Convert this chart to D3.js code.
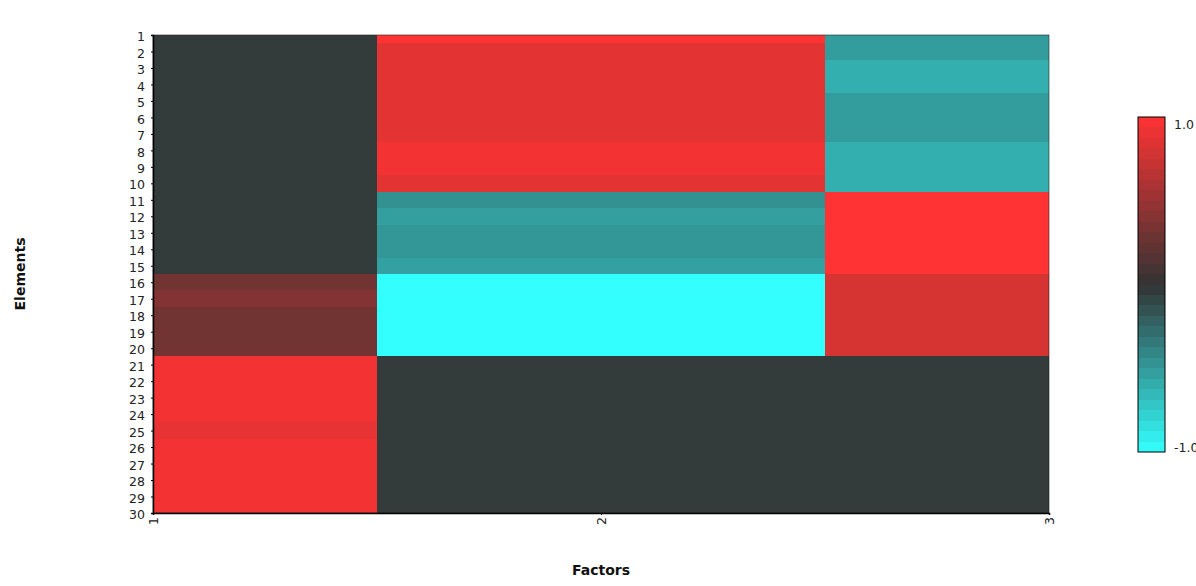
<!DOCTYPE html>
<html>
<head>
<meta charset="utf-8">
<script src="https://cdn.jsdelivr.net/npm/d3@7"></script>
<style>
  body { margin: 0; background: #fff; }
  text { font-family: "DejaVu Sans", sans-serif; }
</style>
</head>
<body>
<div id="area"></div>
<script>
'use strict';

// factors (columns) and elements (rows)
const factors = [1, 2, 3];
const elements = d3.range(1, 31);

// loading values per factor, element 1..30
const factor1 = [-0.04, -0.04, -0.04, -0.04, -0.04, -0.04, -0.04, -0.04, -0.04, -0.04,
                 -0.04, -0.04, -0.04, -0.04, -0.04, 0.31, 0.39, 0.31, 0.31, 0.31,
                 0.94, 0.94, 0.94, 0.94, 0.88, 0.94, 0.94, 0.94, 0.94, 0.94];
const factor2 = [1.0, 0.87, 0.87, 0.87, 0.87, 0.87, 0.87, 0.94, 0.94, 0.87,
                 -0.46, -0.53, -0.49, -0.49, -0.54, -1.0, -1.0, -1.0, -1.0, -1.0,
                 -0.04, -0.04, -0.04, -0.04, -0.04, -0.04, -0.04, -0.04, -0.04, -0.04];
const factor3 = [-0.52, -0.52, -0.61, -0.61, -0.52, -0.52, -0.52, -0.61, -0.61, -0.61,
                 1.0, 1.0, 1.0, 1.0, 1.0, 0.80, 0.80, 0.80, 0.80, 0.80,
                 -0.04, -0.04, -0.04, -0.04, -0.04, -0.04, -0.04, -0.04, -0.04, -0.04];

const legendTicks = [-1.0, 1.0];

const width = 1196, height = 586;
const plot = { left: 153, top: 35, right: 1049, bottom: 513 };

const svg = d3.select('#area').append('svg').attr('width', width).attr('height', height);

const x = d3.scaleLinear().domain([1, 3]).range([plot.left, plot.right]);
const y = d3.scaleLinear().domain([1, 30]).range([plot.top, plot.bottom]);
const color = d3.scaleLinear()
  .domain([-1, 0, 1])
  .range(['rgb(51,255,255)', 'rgb(51,51,51)', 'rgb(255,51,51)'])
  .clamp(true);

// build cell table
const cells = [];
[factor1, factor2, factor3].forEach(function (vals, i) {
  vals.forEach(function (v, j) {
    cells.push({ f: factors[i], e: elements[j], v: v });
  });
});

svg.append('clipPath').attr('id', 'clip')
  .append('rect')
  .attr('x', plot.left).attr('y', plot.top)
  .attr('width', plot.right - plot.left).attr('height', plot.bottom - plot.top);

svg.append('g').attr('clip-path', 'url(#clip)')
  .attr('shape-rendering', 'crispEdges')
  .selectAll('rect')
  .data(cells)
  .join('rect')
  .attr('x', d => Math.round(x(d.f - 0.5)))
  .attr('y', d => Math.round(y(d.e - 0.5)))
  .attr('width', d => Math.round(x(d.f + 0.5)) - Math.round(x(d.f - 0.5)))
  .attr('height', d => Math.round(y(d.e + 0.5)) - Math.round(y(d.e - 0.5)))
  .attr('fill', d => color(d.v));

// plot outline
svg.append('rect')
  .attr('x', plot.left).attr('y', plot.top)
  .attr('width', plot.right - plot.left).attr('height', plot.bottom - plot.top)
  .attr('fill', 'none').attr('stroke', '#222').attr('stroke-width', 0.6);

// y axis
const yAxis = svg.append('g').attr('transform', 'translate(' + plot.left + ',0)')
  .call(d3.axisLeft(y).tickValues(elements).tickSize(2).tickPadding(6));
yAxis.select('.domain').attr('stroke', '#000').attr('stroke-width', 1.5);
yAxis.selectAll('text').attr('font-size', 12.5).attr('fill', '#222').attr('dy', '0.45em')
  .attr('font-family', '"DejaVu Sans", sans-serif');

// x axis with rotated labels
const xAxis = svg.append('g').attr('transform', 'translate(0,' + plot.bottom + ')')
  .call(d3.axisBottom(x).tickValues(factors).tickFormat(d3.format('d')).tickSize(2).tickPadding(4));
xAxis.select('.domain').attr('stroke', '#000').attr('stroke-width', 1.5);
xAxis.selectAll('text')
  .attr('font-size', 12.5).attr('fill', '#222')
  .attr('font-family', '"DejaVu Sans", sans-serif')
  .attr('text-anchor', 'end')
  .attr('transform', 'rotate(-90)')
  .attr('x', -4).attr('y', 0).attr('dy', '0.35em');

// axis titles
svg.append('text')
  .attr('x', (plot.left + plot.right) / 2).attr('y', 575)
  .attr('text-anchor', 'middle')
  .attr('font-size', 14).attr('font-weight', 'bold').attr('fill', '#111')
  .text('Factors');

svg.append('text')
  .attr('transform', 'translate(25,' + 274 + ') rotate(-90)')
  .attr('text-anchor', 'middle')
  .attr('font-size', 14).attr('font-weight', 'bold').attr('fill', '#111')
  .text('Elements');

// colour legend
const lg = { x: 1138, top: 117, bottom: 452, w: 27 };
const ly = d3.scaleLinear().domain([1, -1]).range([lg.top, lg.bottom]);
const steps = 32;
const bands = d3.range(steps).map(i => -1 + i * 2 / steps);
svg.append('g').attr('shape-rendering', 'crispEdges').selectAll('rect')
  .data(bands)
  .join('rect')
  .attr('x', lg.x)
  .attr('y', d => Math.round(ly(d + 2 / steps)))
  .attr('width', lg.w)
  .attr('height', d => Math.round(ly(d)) - Math.round(ly(d + 2 / steps)))
  .attr('fill', d => color(d + 1 / steps));
svg.append('rect')
  .attr('x', lg.x).attr('y', lg.top)
  .attr('width', lg.w).attr('height', lg.bottom - lg.top)
  .attr('fill', 'none').attr('stroke', '#000').attr('stroke-width', 1);

svg.append('g').selectAll('text')
  .data(legendTicks)
  .join('text')
  .attr('x', lg.x + lg.w + 9)
  .attr('y', d => ly(d) + (d > 0 ? 12 : 0))
  .attr('font-size', 12.5).attr('fill', '#222')
  .text(d => d.toFixed(1));
</script>
</body>
</html>
